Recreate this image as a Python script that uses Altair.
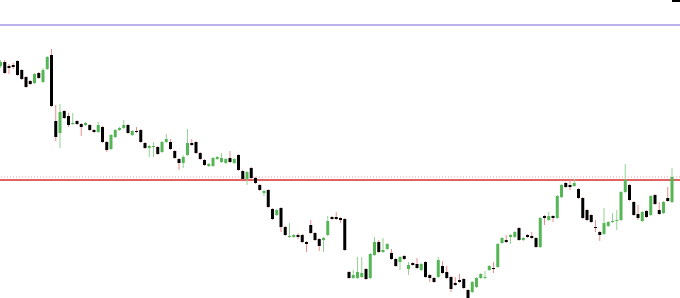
import altair as alt
import pandas as pd

# OHLC series, one entry per session (oldest first)
opens = [234, 238, 234, 235, 239, 230, 223, 219, 217, 227, 218, 231, 245, 179, 167, 189, 184, 176, 179, 176,
         175, 175, 170, 168, 173, 158, 151, 163, 170, 172, 175, 165, 169, 170, 157, 152, 153, 153, 148, 158,
         158, 149, 141, 137, 145, 157, 158, 147, 140, 134, 134, 141, 138, 137, 142, 137, 145, 129, 121, 132,
         122, 115, 107, 110, 91, 85, 92, 73, 63, 63, 65, 65, 58, 75, 67, 61, 60, 65, 83, 83,
         82, 81, 28, 22, 22, 23, 31, 22, 45, 58, 48, 51, 47, 41, 38, 44, 31, 37, 36, 30,
         38, 25, 22, 23, 34, 28, 23, 17, 20, 21, 10, 8, 13, 22, 22, 30, 32, 33, 57, 60,
         63, 63, 72, 60, 65, 64, 62, 53, 84, 80, 84, 82, 103, 117, 115, 114, 111, 102, 90, 85,
         73, 68, 66, 74, 78, 79, 80, 108, 115, 98, 86, 79, 89, 85, 105, 90, 87, 102, 98]
highs = [240, 240, 236, 237, 240, 231, 224, 220, 227, 228, 232, 244, 251, 195, 196, 190, 187, 187, 180, 177,
         178, 176, 171, 178, 174, 159, 166, 171, 173, 180, 176, 170, 173, 171, 158, 155, 158, 154, 159, 166,
         161, 150, 142, 145, 171, 161, 159, 148, 141, 137, 143, 144, 147, 142, 149, 142, 146, 130, 129, 133,
         123, 116, 110, 111, 92, 91, 93, 74, 77, 66, 67, 66, 59, 80, 68, 62, 63, 84, 84, 88,
         83, 82, 29, 30, 43, 43, 32, 47, 63, 60, 62, 57, 51, 42, 44, 45, 38, 38, 42, 37,
         39, 26, 23, 43, 39, 34, 24, 23, 26, 22, 11, 19, 23, 27, 29, 35, 38, 57, 63, 65,
         66, 69, 73, 63, 66, 68, 63, 83, 85, 88, 85, 105, 116, 118, 120, 121, 112, 103, 91, 86,
         80, 69, 92, 79, 87, 90, 109, 136, 116, 99, 95, 89, 90, 105, 106, 98, 99, 113, 132]
lows = [232, 226, 226, 231, 224, 220, 212, 215, 216, 221, 217, 230, 193, 159, 152, 181, 173, 175, 175, 164,
        174, 169, 167, 167, 157, 148, 150, 162, 169, 171, 166, 164, 167, 157, 151, 143, 143, 145, 147, 157,
        150, 141, 130, 132, 144, 154, 146, 140, 134, 133, 133, 140, 137, 136, 137, 136, 129, 120, 115, 121,
        116, 109, 104, 92, 80, 84, 68, 64, 62, 62, 61, 57, 48, 66, 59, 49, 48, 64, 80, 80,
        77, 49, 21, 21, 21, 22, 20, 21, 44, 47, 47, 50, 40, 33, 30, 40, 25, 34, 31, 29,
        22, 18, 17, 22, 26, 21, 8, 14, 17, 11, 1, 7, 12, 21, 21, 29, 27, 32, 56, 57,
        56, 62, 59, 59, 62, 61, 52, 52, 75, 79, 78, 81, 102, 112, 110, 113, 101, 81, 79, 77,
        68, 59, 65, 73, 77, 70, 79, 107, 99, 84, 80, 78, 82, 84, 95, 85, 86, 98, 97]
closes = [238, 227, 232, 233, 225, 221, 213, 216, 226, 222, 230, 243, 194, 163, 188, 182, 175, 177, 176, 173,
          177, 170, 168, 175, 158, 150, 165, 170, 172, 175, 167, 169, 168, 158, 152, 154, 154, 146, 158, 161,
          151, 142, 137, 143, 157, 155, 147, 141, 135, 136, 142, 143, 142, 141, 138, 141, 130, 121, 128, 122,
          117, 110, 109, 93, 81, 90, 73, 65, 64, 65, 63, 58, 56, 67, 60, 54, 62, 79, 81, 81,
          80, 50, 22, 25, 28, 27, 21, 46, 58, 48, 50, 56, 41, 34, 43, 41, 35, 35, 32, 36,
          23, 22, 18, 40, 27, 22, 11, 15, 18, 12, 2, 18, 22, 26, 23, 34, 31, 56, 62, 58,
          65, 68, 60, 62, 63, 62, 53, 82, 82, 84, 82, 104, 115, 113, 113, 117, 102, 82, 80, 78,
          72, 65, 77, 78, 79, 80, 108, 120, 100, 85, 82, 88, 83, 104, 96, 86, 98, 99, 123]

# Horizontal reference levels
upper_level = 275
pivot_level = 120
pivot_band = 123

candles = pd.DataFrame({
    "idx": list(range(len(opens))),
    "open": opens,
    "high": highs,
    "low": lows,
    "close": closes,
})
candles["dir"] = ["up" if c >= o else "down" for o, c in zip(opens, closes)]

x_scale = alt.Scale(domain=[-0.118, 159.88], nice=False, zero=False, padding=0)
y_scale = alt.Scale(domain=[2, 300], nice=False, zero=False)

base = alt.Chart(candles)

wicks = base.mark_rule(strokeWidth=1).encode(
    x=alt.X("idx:Q", scale=x_scale, axis=None),
    y=alt.Y("low:Q", scale=y_scale, axis=None),
    y2="high:Q",
    color=alt.Color("dir:N", scale=alt.Scale(domain=["up", "down"], range=["#93d393", "#ea8e8e"]), legend=None),
)

bodies = base.mark_bar(size=3).encode(
    x=alt.X("idx:Q", scale=x_scale, axis=None),
    y=alt.Y("open:Q", scale=y_scale, axis=None),
    y2="close:Q",
    color=alt.Color("dir:N", scale=alt.Scale(domain=["up", "down"], range=["#55b655", "#000000"]), legend=None),
)

candle_layer = alt.layer(wicks, bodies).resolve_scale(color="independent")

upper = alt.Chart(pd.DataFrame({"price": [upper_level]})).mark_rule(color="#a597e4", strokeWidth=1.5).encode(
    y=alt.Y("price:Q", scale=y_scale, axis=None)
)

pivot = alt.Chart(pd.DataFrame({"price": [pivot_level]})).mark_rule(color="#e06262", strokeWidth=2).encode(
    y=alt.Y("price:Q", scale=y_scale, axis=None)
)

band = alt.Chart(pd.DataFrame({"price": [pivot_band]})).mark_rule(
    color="#eaa0a0", strokeWidth=1, strokeDash=[1, 2]
).encode(
    y=alt.Y("price:Q", scale=y_scale, axis=None)
)

# price tag stub in the top-right corner
tag = alt.Chart(pd.DataFrame({"k": [0]})).mark_rect(color="#000000").encode(
    x=alt.value(672), x2=alt.value(680), y=alt.value(0), y2=alt.value(2)
)

chart = alt.layer(upper, band, pivot, candle_layer, tag).resolve_scale(color="independent").properties(
    width=680, height=298, padding=0, autosize="none", background="white"
).configure_view(stroke=None)

chart.save("out.html", embed_options={"renderer": "svg", "actions": False})
